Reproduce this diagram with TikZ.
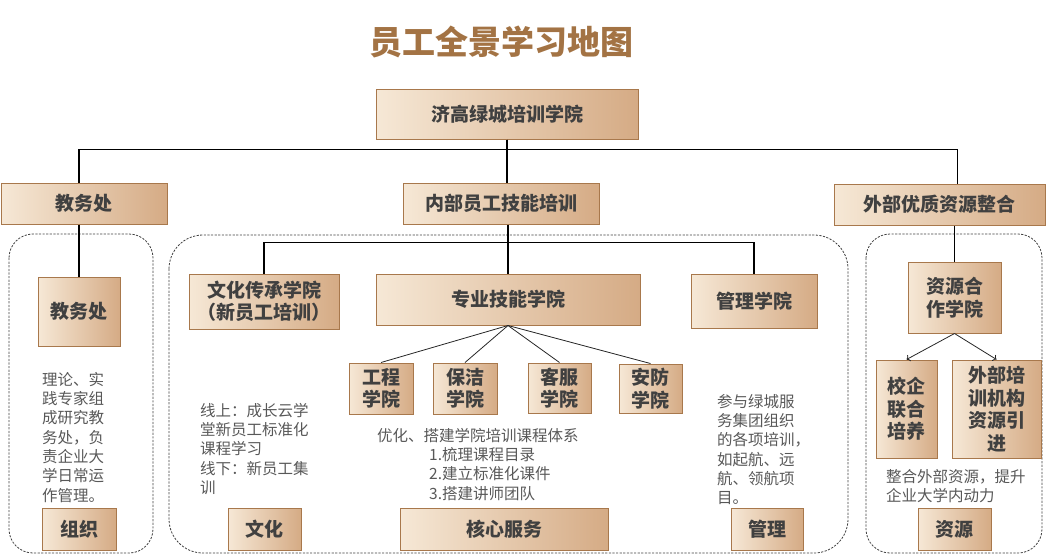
\documentclass[tikz,border=0pt]{standalone}
\usepackage{fontspec}
\setmainfont{Noto Sans CJK SC}
\usepackage{tikz}
\usetikzlibrary{positioning,arrows.meta}
\definecolor{tanlight}{RGB}{246,232,214}
\definecolor{tandark}{RGB}{213,171,133}
\definecolor{tanedge}{RGB}{168,120,76}
\definecolor{titlebrown}{RGB}{163,115,68}
\definecolor{inkgray}{RGB}{64,64,64}
\definecolor{notegray}{RGB}{88,88,88}

\begin{document}
\begin{tikzpicture}[
        x=1pt, y=-1pt,
        card/.style={rectangle, draw=tanedge, line width=1pt, left color=tanlight, right color=tandark, text=inkgray, inner sep=0pt, align=center, font=\bfseries\fontsize{19}{22.5}\selectfont},
        note/.style={anchor=north west, inner sep=0pt, align=left, text=notegray, font=\fontsize{15.5}{19.3}\selectfont},
        zone/.style={draw=black!75, dashed, dash pattern=on 2.2pt off 1.4pt, line width=0.8pt, rounded corners=#1},
        zone/.default=24pt,
        trunk/.style={draw=black, line width=1.1pt},
        twig/.style={draw=black!85, line width=0.8pt},
    ]
        \useasboundingbox (0,0) rectangle (1050,555);

        \node[text=titlebrown, font=\bfseries\fontsize{33}{38}\selectfont] (title) at (501,42) {员工全景学习地图};

        \node[card, minimum width=262, minimum height=50] (top) at (507,114) {济高绿城培训学院};
        \node[card, minimum width=166, minimum height=41] (jwc) at (84,203.5) {教务处};
        \node[card, minimum width=196, minimum height=41] (nbpx) at (501,203.5) {内部员工技能培训};
        \node[card, minimum width=211, minimum height=41] (wbzy) at (939.5,204.5) {外部优质资源整合};

        \draw[zone] (9,234) rectangle (153,553);
        \draw[zone=34pt] (169,235) rectangle (848,553);
        \draw[zone] (866,234) rectangle (1042,553);

        \node[card, minimum width=82, minimum height=69] (jwcin) at (79,311.5) {教务处};
        \node[note] (jwcnote) at (42,372) {理论、实\\践专家组\\成研究教\\务处，负\\责企业大\\学日常运\\作管理。};
        \node[card, minimum width=74, minimum height=42] (zuzhi) at (79,529) {组织};

        \node[card, minimum width=150, minimum height=55] (whcc) at (264,301.5) {文化传承学院\\（新员工培训）};
        \node[card, minimum width=264, minimum height=51] (zyjn) at (508,299.5) {专业技能学院};
        \node[card, minimum width=126, minimum height=54] (glxy) at (754,301) {管理学院};

        \node[card, minimum width=64, minimum height=51] (gc) at (381,388.5) {工程\\学院};
        \node[card, minimum width=64, minimum height=51] (bj) at (465,388.5) {保洁\\学院};
        \node[card, minimum width=63, minimum height=50] (kf) at (559.5,388) {客服\\学院};
        \node[card, minimum width=63, minimum height=49] (af) at (650.5,388.5) {安防\\学院};

        \node[note] (whnote) at (200,403) {线上：成长云学\\堂新员工标准化\\课程学习\\线下：新员工集\\训};
        \node[note] (zynote) at (377,428) {优化、搭建学院培训课程体系\\\hspace*{52pt}1.梳理课程目录\\\hspace*{52pt}2.建立标准化课件\\\hspace*{52pt}3.搭建讲师团队};
        \node[note] (glnote) at (717,394) {参与绿城服\\务集团组织\\的各项培训，\\如起航、远\\航、领航项\\目。};

        \node[card, minimum width=73, minimum height=42] (wenhua) at (264.5,529) {文化};
        \node[card, minimum width=208, minimum height=42] (hxfw) at (504,529) {核心服务};
        \node[card, minimum width=72, minimum height=42] (guanli) at (767,529) {管理};

        \node[card, minimum width=93, minimum height=71] (zyhz) at (954.5,297.5) {资源合\\作学院};
        \node[card, minimum width=61, minimum height=98] (xqlh) at (906.5,409) {校企\\联合\\培养};
        \node[card, minimum width=89, minimum height=98] (wbpx) at (996.5,409) {外部培\\训机构\\资源引\\进};
        \node[note] (zynote2) at (886,469) {整合外部资源，提升\\企业大学内动力};
        \node[card, minimum width=73, minimum height=42] (ziyuan) at (954.5,529) {资源};

        \draw[trunk] (top.south) -- ++(0,10) -| ([xshift=-5pt]jwc.north);
        \draw[trunk] (top.south) -- ++(0,10) -| ([xshift=18pt]wbzy.north);
        \draw[trunk] (top.south) -- (top.south |- nbpx.north);
        \draw[trunk] (jwcin.north |- jwc.south) -- (jwcin.north);
        \draw[trunk] (zyjn.north |- nbpx.south) -- (zyjn.north);
        \coordinate (midbus) at ([yshift=31pt]zyjn.north);
        \draw[trunk] (whcc.north) |- (midbus) -| (glxy.north);
        \draw[trunk] (zyhz.north |- wbzy.south) -- (zyhz.north);

        \foreach \s in {gc,bj,kf,af}
            \draw[twig] (zyjn.south) -- (\s.north);
        \draw[twig, ->] (zyhz.south) -- (xqlh.north);
        \draw[twig, ->] (zyhz.south) -- (wbpx.north);
    \end{tikzpicture}
\end{document}
